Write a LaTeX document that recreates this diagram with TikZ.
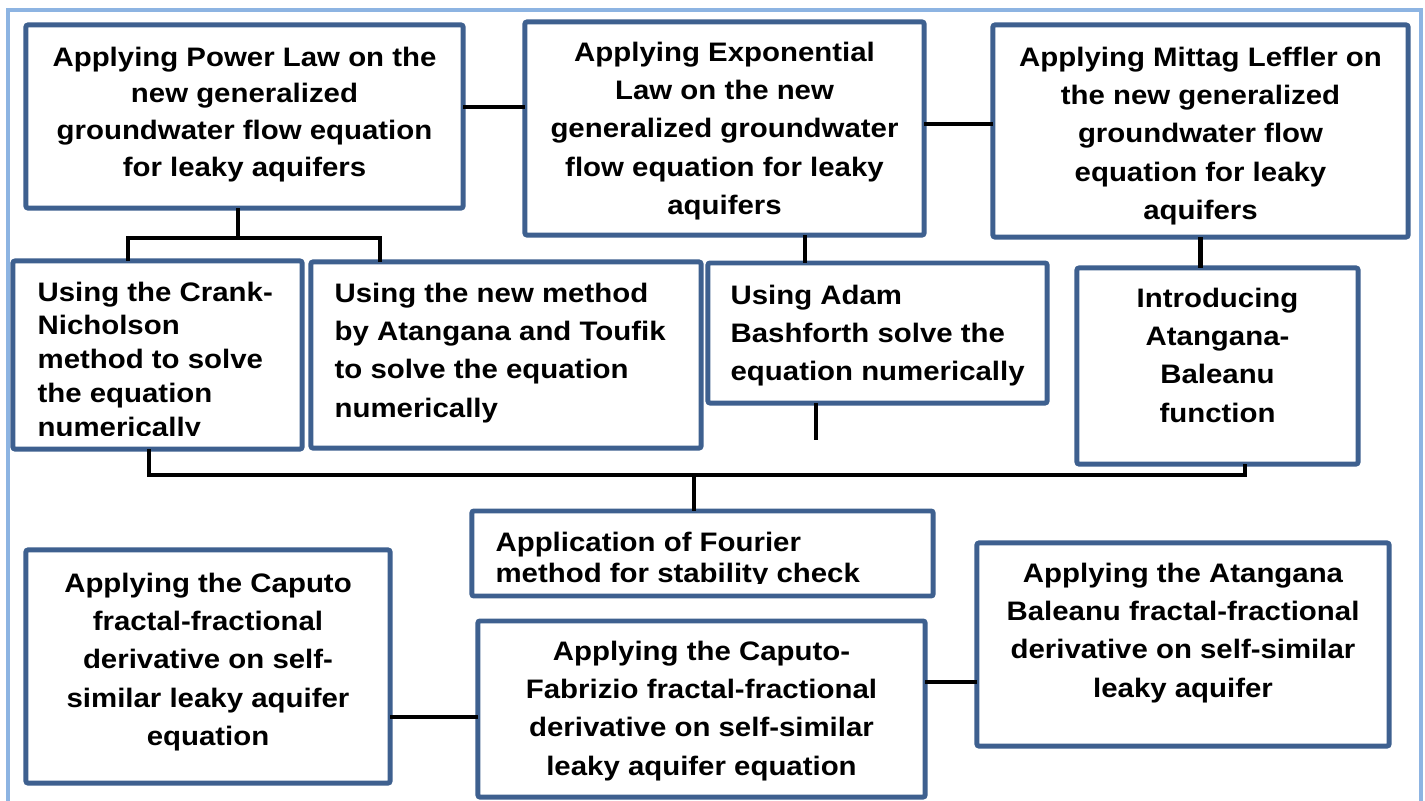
\documentclass[tikz,border=0pt]{standalone}
\usepackage{fontspec}
\newfontfamily\boxfont[FakeStretch=1.1]{Liberation Sans}
\definecolor{boxblue}{RGB}{62,96,143}
\definecolor{frameblue}{RGB}{141,180,226}
\begin{document}
\begin{tikzpicture}[
  x=0.01cm, y=-0.01cm,
  box/.style={
    draw=boxblue, line width=1.4pt, rectangle, rounded corners=0.6pt,
    outer sep=0pt, inner sep=0pt
  },
  txt/.style={
    font=\boxfont\bfseries\fontsize{7.6}{10.9}\selectfont,
    inner sep=0pt, align=center, anchor=north
  },
  ltxt/.style={txt, align=left, anchor=north west},
  link/.style={draw=black, line width=1.4pt},
  frame/.style={draw=frameblue, line width=1.1pt},
]

\useasboundingbox (0,0) rectangle (1425,800);
\draw[frame] (8,10) rectangle (1421,815);

% top row
\node[box, minimum width=4.37cm, minimum height=1.83cm] (power)  at (244.5,116.5) {};
\node[box, minimum width=3.99cm, minimum height=2.13cm] (expo)   at (724.5,128.5) {};
\node[box, minimum width=4.15cm, minimum height=2.12cm] (mittag) at (1200.5,131)  {};

\node[txt, font=\boxfont\bfseries\fontsize{7.6}{10.45}\selectfont] (power-t) at ([yshift=-0.21cm]power.north)
  {Applying Power Law on the\\new generalized\\groundwater flow equation\\for leaky aquifers};
\node[txt] (expo-t) at ([yshift=-0.19cm]expo.north)
  {Applying Exponential\\Law on the new\\generalized groundwater\\flow equation for leaky\\aquifers};
\node[txt] (mittag-t) at ([yshift=-0.21cm]mittag.north)
  {Applying Mittag Leffler on\\the new generalized\\groundwater flow\\equation for leaky\\aquifers};

% methods
\node[box, minimum width=2.89cm, minimum height=1.88cm] (crank)  at (157.5,355) {};
\node[box, minimum width=3.90cm, minimum height=1.86cm] (toufik) at (506,355)   {};
\node[box, minimum width=3.39cm, minimum height=1.40cm] (adams)  at (877.5,333) {};
\node[box, minimum width=2.81cm, minimum height=1.96cm] (intro)  at (1217.5,366) {};

\begin{scope}
  \clip (13,261) rectangle (302,435);
  \node[ltxt, font=\boxfont\bfseries\fontsize{7.6}{9.6}\selectfont] (crank-t) at ([xshift=0.24cm, yshift=-0.2cm]crank.north west)
    {Using the Crank-\\Nicholson\\method to solve\\the equation\\numerically};
\end{scope}
\node[ltxt] (toufik-t) at ([xshift=0.23cm, yshift=-0.2cm]toufik.north west)
  {Using the new method\\by Atangana and Toufik\\to solve the equation\\numerically};
\node[ltxt] (adams-t) at ([xshift=0.22cm, yshift=-0.21cm]adams.north west)
  {Using Adam\\Bashforth solve the\\equation numerically};
\node[txt] (intro-t) at ([yshift=-0.19cm]intro.north)
  {Introducing\\Atangana-\\Baleanu\\function};

% stability
\node[box, minimum width=4.61cm, minimum height=0.85cm] (fourier) at (702.5,553.5) {};
\begin{scope}
  \clip (472,511) rectangle (933,583);
  \node[ltxt, font=\boxfont\bfseries\fontsize{7.6}{9.0}\selectfont] (fourier-t) at ([xshift=0.23cm, yshift=-0.2cm]fourier.north west)
    {Application of Fourier\\method for stability check};
\end{scope}

% fractal-fractional
\node[box, minimum width=3.64cm, minimum height=2.33cm] (caputo)   at (208,666.5)  {};
\node[box, minimum width=4.47cm, minimum height=1.76cm] (fabrizio) at (701.5,709)  {};
\node[box, minimum width=4.12cm, minimum height=2.03cm] (baleanu)  at (1183,644.5) {};

\node[txt] (caputo-t) at ([yshift=-0.22cm]caputo.north)
  {Applying the Caputo\\fractal-fractional\\derivative on self-\\similar leaky aquifer\\equation};
\node[txt] (fabrizio-t) at ([yshift=-0.19cm]fabrizio.north)
  {Applying the Caputo-\\Fabrizio fractal-fractional\\derivative on self-similar\\leaky aquifer equation};
\node[txt] (baleanu-t) at ([yshift=-0.19cm]baleanu.north)
  {Applying the Atangana\\Baleanu fractal-fractional\\derivative on self-similar\\leaky aquifer};

% connectors
\coordinate (pw-l) at (128,238);
\coordinate (pw-m) at (238,238);
\coordinate (pw-r) at (380,238);
\coordinate (ea)   at (805,250);
\coordinate (ad-end) at (816,440);
\coordinate (bus-l) at (149,475);
\coordinate (bus-m) at (694,475);
\coordinate (bus-r) at (1245,475);

\draw[link] ([yshift=0.095cm]power.east) -- ([yshift=0.095cm]power.east -| expo.west);
\draw[link] ([yshift=0.045cm]expo.east) -- ([yshift=0.045cm]expo.east -| mittag.west);
\draw[link] (power.south -| pw-m) -- (pw-m);
\draw[link] (crank.north -| pw-l) -- (pw-l) -- (pw-r) -- (toufik.north -| pw-r);
\draw[link] (expo.south -| ea) -- (adams.north -| ea);
\draw[link] (adams.south -| ad-end) -- (ad-end);
\draw[link] (mittag.south) -- (mittag.south |- intro.north);
\draw[link] (crank.south -| bus-l) -- (bus-l) -- (bus-r) -- (intro.south -| bus-r);
\draw[link] (bus-m) -- (fourier.north -| bus-m);
\draw[link] ([yshift=-0.08cm]fabrizio.west -| caputo.east) -- ([yshift=-0.08cm]fabrizio.west);
\draw[link] ([yshift=-0.375cm]baleanu.west) -- ([yshift=-0.375cm]baleanu.west -| fabrizio.east);

\end{tikzpicture}
\end{document}
